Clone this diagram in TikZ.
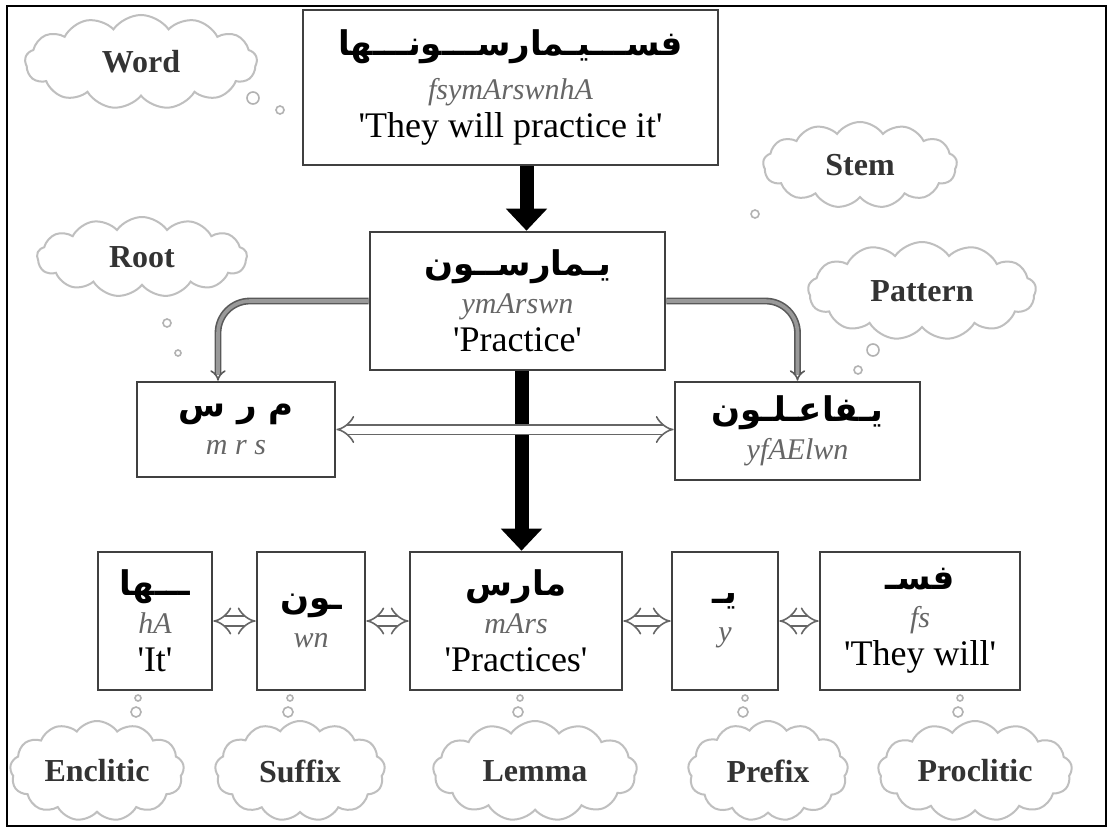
\documentclass[tikz,border=0pt]{standalone}
\usepackage{fontspec}
\setmainfont{Liberation Serif}
\newfontfamily\arabicfont[Script=Arabic]{DejaVu Sans}
\TeXXeTstate=1
\usetikzlibrary{shapes.symbols,arrows.meta,positioning}

\newcommand{\arw}[1]{{\arabicfont\bfseries\fontsize{17}{19}\selectfont\beginR #1\endR}}
\newcommand{\trl}[1]{{\itshape\color{black!60}\fontsize{15}{19}\selectfont #1}}
\newcommand{\gls}[1]{{\fontsize{18}{19}\selectfont\textquotesingle#1\textquotesingle}}

\begin{document}
\begin{tikzpicture}[x=0.5pt,y=-0.5pt,
  morph/.style={draw=black!75,line width=1.3pt,fill=white,align=center,inner sep=0pt,
    font=\fontsize{18}{19}\selectfont},
  thought/.style={cloud,cloud puffs=13,cloud puff arc=110,cloud ignores aspect,draw=black!25,
    line width=1pt,font=\bfseries\fontsize{16}{18}\selectfont,text=black!80},
  bigarrow/.style={line width=7pt,-{Triangle[width=20pt,length=11pt]}},
  link/.style={double,draw=black!60,double=white,double distance=4pt,line width=0.8pt,
    {Implies}-{Implies}},
  branch/.style={double,draw=black!65,double=black!40,double distance=1.8pt,line width=0.8pt,
    rounded corners=16pt,-{Implies}},
  bubble/.style={draw=black!30,line width=0.8pt}]
\useasboundingbox (0,0) rectangle (1111,829);
\fill[white] (0,0) rectangle (1111,829);
\draw[line width=1.4pt] (7,6) rectangle (1106,826);

% thought clouds
\node[thought,minimum width=116pt,minimum height=47pt] (cword) at (141,62) {Word};
\node[thought,minimum width=105pt,minimum height=40pt] (croot) at (142,257) {Root};
\node[thought,minimum width=97pt,minimum height=43pt] (cstem) at (860,165) {Stem};
\node[thought,minimum width=114pt,minimum height=49pt] (cpatt) at (922,291) {Pattern};
\node[thought,minimum width=87pt,minimum height=50pt] (cencl) at (97,771) {Enclitic};
\node[thought,minimum width=85pt,minimum height=50pt] (csuff) at (300,771) {Suffix};
\node[thought,minimum width=102pt,minimum height=50pt] (clem) at (535,771) {Lemma};
\node[thought,minimum width=80pt,minimum height=50pt] (cpref) at (768,771) {Prefix};
\node[thought,minimum width=97pt,minimum height=50pt] (cprocl) at (975,771) {Proclitic};

% bubble trails
\foreach \x/\y/\r in {253/98/3,280/110/2,755/214/2,873/350/3,858/370/2,167/323/2,
  178/353/1.5,138/698/1.5,136/712/2.5,290/698/1.5,288/712/2.5,520/698/1.5,518/712/2.5,
  745/698/1.5,743/712/2.5,960/698/1.5,958/712/2.5}
  \draw[bubble] (\x,\y) circle[radius=\r pt];

% word and stem
\node[morph,minimum width=207.5pt,minimum height=77.5pt] (word) at (510.5,87.5)
  {\arw{فســـيـمارســـونـــها}\\[3pt]\trl{fsymArswnhA}\\\gls{They will practice it}};
\node[morph,minimum width=147.5pt,minimum height=69pt] (stem) at (517.5,301)
  {\arw{يـمارســون}\\\trl{ymArswn}\\\gls{Practice}};

% root and pattern
\node[morph,minimum width=99pt,minimum height=47.5pt] (root) at (236,429.5)
  {\arw{م ر س}\\\trl{m r s}};
\node[morph,minimum width=122.5pt,minimum height=49pt] (pattern) at (797.5,431)
  {\arw{يـفاعـلـون}\\\trl{yfAElwn}};

% segments
\node[morph,minimum width=57pt,minimum height=69pt] (encl) at (155,621)
  {\arw{ـــها}\\\trl{hA}\\\gls{It}};
\node[morph,minimum width=54pt,minimum height=69pt] (suff) at (311,621)
  {\arw{ـون}\\\trl{wn}};
\node[morph,minimum width=106pt,minimum height=69pt] (lemma) at (516,621)
  {\arw{مارس}\\\trl{mArs}\\\gls{Practices}};
\node[morph,minimum width=53pt,minimum height=69pt] (pref) at (725,621)
  {\arw{يـ}\\\trl{y}};
\node[morph,minimum width=100pt,minimum height=69pt] (procl) at (920,621)
  {\arw{فسـ}\\\trl{fs}\\\gls{They will}};

% connectors
\draw[bigarrow] ([xshift=8pt]word.south) -- ([xshift=8pt]word.south |- stem.north);
\draw[bigarrow] ([xshift=2pt]stem.south) -- ([xshift=2pt]stem.south |- lemma.north);
\draw[branch] (stem.west) -| ([xshift=-9pt]root.north);
\draw[branch] (stem.east) -| (pattern.north);
\draw[link] (root.east) -- (root.east -| pattern.west);
\draw[link] (encl) -- (suff);
\draw[link] (suff) -- (lemma);
\draw[link] (lemma) -- (pref);
\draw[link] (pref) -- (procl);
\end{tikzpicture}
\end{document}
